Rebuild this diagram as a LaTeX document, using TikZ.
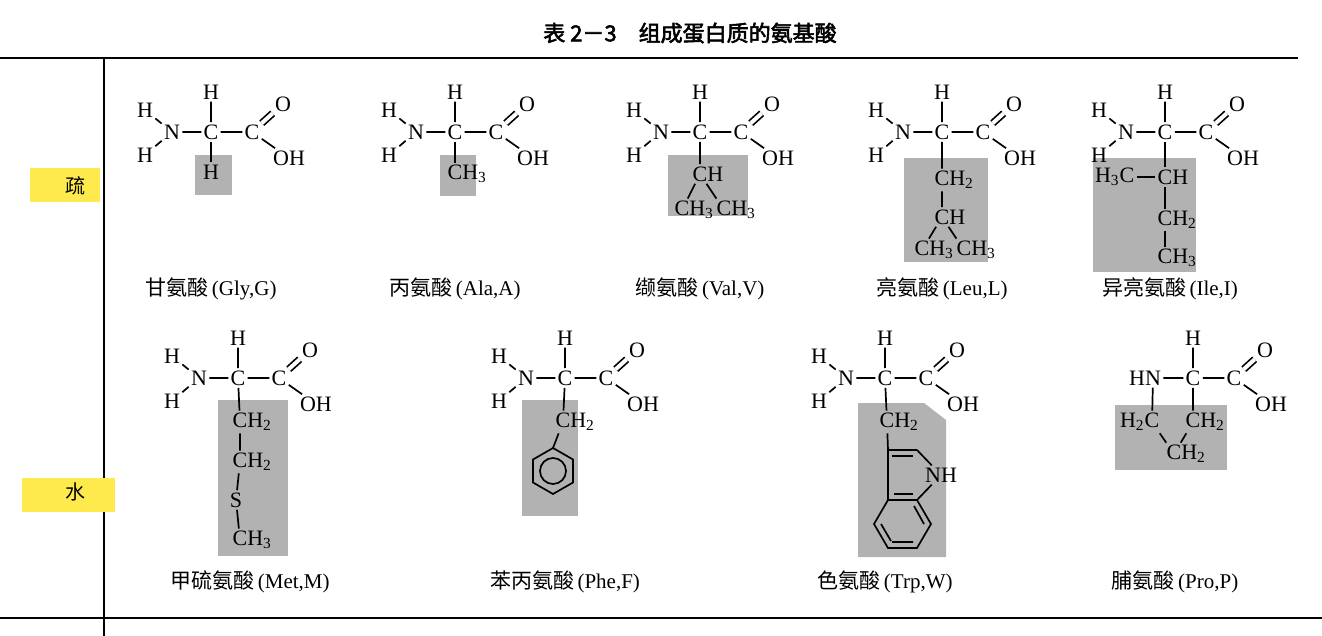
\documentclass[tikz,border=0pt]{standalone}
\usepackage{fontspec}
\setmainfont{Liberation Serif}
\newfontfamily\cjk[AutoFakeBold=2.5]{Noto Sans CJK SC}
\begin{document}
\begin{tikzpicture}[x=0.5pt,y=-0.5pt,
  atom/.style={inner sep=1pt,font=\fontsize{11}{11}\selectfont},
  bond/.style={line width=0.85pt},
  shade/.style={fill=black!30,draw=none},
  hl/.style={fill=yellow!85!orange!70,draw=none},
  lab/.style={font=\fontsize{10.5}{11}\selectfont},
  rule/.style={line width=1pt}]
\useasboundingbox (0,0) rectangle (1322,636);
\newcommand{\bbcore}{%
 \node[atom] (Ca) at (0,0) {C};
 \node[atom] (C) at (41,0) {C};
 \node[atom] (Ht) at (0,-40) {H};
 \node[atom] (O) at (72,-28) {O};
 \node[atom] (OH) at (78,26) {OH};
 \draw[bond] (Ca)--(C) (Ca)--(Ht) (C)--(OH);
 \draw[bond,double,double distance=2pt] (C)--(O);}
\newcommand{\backbone}{%
 \bbcore
 \node[atom] (N) at (-39,0) {N};
 \node[atom] (H1) at (-66,-22) {H};
 \node[atom] (H2) at (-66,23) {H};
 \draw[bond] (N)--(Ca) (N)--(H1) (N)--(H2);}
\newcommand{\CHt}{C\rlap{H\textsubscript{2}}}
\newcommand{\CHth}{C\rlap{H\textsubscript{3}}}
% title and rules
\node[font=\cjk\bfseries\fontsize{11}{12}\selectfont] (title) at (690,33) {表 2－3\quad 组成蛋白质的氨基酸};
\draw[rule] (0,58) -- (1298,58);
\draw[rule] (0,618) -- (1322,618);
\draw[rule] (104,58) -- (104,636);
\fill[hl] (30,168) rectangle (100,202);
\fill[hl] (22,478) rectangle (115,512);
\node[font=\cjk\fontsize{10}{10}\selectfont] (shu) at (75,186) {疏};
\node[font=\cjk\fontsize{10}{10}\selectfont] (shui) at (75,492) {水};
% shaded side chains
\fill[shade] (195,155) rectangle (232,195);
\fill[shade] (440,155) rectangle (476,196);
\fill[shade] (668,155) rectangle (748,216);
\fill[shade] (904,158) rectangle (988,262);
\fill[shade] (1093,158) rectangle (1196,272);
\fill[shade] (218,400) rectangle (288,556);
\fill[shade] (522,400) rectangle (578,516);
\fill[shade] (858,403) -- (924,403) -- (946,420) -- (946,557) -- (858,557) -- cycle;
\fill[shade] (1115,405) rectangle (1227,470);
% Gly
\begin{scope}[shift={(211,132)},name prefix=gly-]
 \backbone
 \node[atom] (R) at (0,40) {H};
 \draw[bond] (Ca)--(R);
\end{scope}
% Ala
\begin{scope}[shift={(455,132)},name prefix=ala-]
 \backbone
 \node[atom] (R) at (0,42) {\CHth};
 \draw[bond] (Ca)--(R);
\end{scope}
% Val
\begin{scope}[shift={(700,132)},name prefix=val-]
 \backbone
 \node[atom] (R) at (0,42) {C\rlap{H}};
 \node[atom] (M1) at (-18,78) {\CHth};
 \node[atom] (M2) at (24,78) {\CHth};
 \draw[bond] (Ca)--(R) (R)--(M1) (R)--(M2);
\end{scope}
% Leu
\begin{scope}[shift={(942,132)},name prefix=leu-]
 \backbone
 \node[atom] (R1) at (0,48) {\CHt};
 \node[atom] (R2) at (0,85) {C\rlap{H}};
 \node[atom] (M1) at (-20,118) {\CHth};
 \node[atom] (M2) at (22,118) {\CHth};
 \draw[bond] (Ca)--(R1) (R1)--(R2) (R2)--(M1) (R2)--(M2);
\end{scope}
% Ile
\begin{scope}[shift={(1165,132)},name prefix=ile-]
 \backbone
 \node[atom] (R1) at (0,45) {C\rlap{H}};
 \node[atom] (M) at (-38,45) {\llap{H\textsubscript{3}}C};
 \node[atom] (R2) at (0,88) {\CHt};
 \node[atom] (R3) at (0,126) {\CHth};
 \draw[bond] (Ca)--(R1) (M)--(R1) (R1)--(R2) (R2)--(R3);
\end{scope}
% Met
\begin{scope}[shift={(238,378)},name prefix=met-]
 \backbone
 \node[atom] (R1) at (2,44) {\CHt};
 \node[atom] (R2) at (2,84) {\CHt};
 \node[atom] (S) at (-2,122) {S};
 \node[atom] (R3) at (2,162) {\CHth};
 \draw[bond] (Ca)--(R1) (R1)--(R2) (R2)--(S) (S)--(R3);
\end{scope}
% Phe
\begin{scope}[shift={(565,378)},name prefix=phe-]
 \backbone
 \node[atom] (R1) at (-2,44) {\CHt};
 \coordinate (B1) at (-12,70);
 \draw[bond] (Ca)--(R1) (R1)--(B1);
 \draw[bond] (B1) -- (-32,81.5) -- (-32,104.5) -- (-12,116) -- (8,104.5) -- (8,81.5) -- cycle;
 \draw[bond] (-12,93) circle (13);
\end{scope}
% Trp
\begin{scope}[shift={(885,378)},name prefix=trp-]
 \backbone
 \node[atom] (R1) at (2,44) {\CHt};
 \coordinate (C3) at (3,72);
 \coordinate (C2) at (32,72);
 \node[atom] (NH) at (56,97) {NH};
 \coordinate (C7a) at (32,122);
 \coordinate (C3a) at (3,122);
 \draw[bond] (Ca)--(R1) (R1)--(C3) (C3)--(C2) (C2)--(NH) (NH)--(C7a) (C7a)--(C3a) (C3a)--(C3);
 \draw[bond] (7,78)--(28,78) (9,116)--(28,116);
 \draw[bond] (C3a) -- (-11,146) -- (3,170) -- (32,170) -- (46,146) -- (C7a);
 \draw[bond] (-4,146)--(6,163) (7,164)--(28,164) (39,146)--(29,128);
\end{scope}
% Pro
\begin{scope}[shift={(1193,378)},name prefix=pro-]
 \bbcore
 \node[atom] (N) at (-40,0) {\llap{H}N};
 \node[atom] (R1) at (-41,44) {\llap{H\textsubscript{2}}C};
 \node[atom] (R2) at (0,44) {\CHt};
 \node[atom] (R3) at (-19,76) {\CHt};
 \draw[bond] (N)--(Ca) (N)--(R1) (Ca)--(R2) (R1)--(R3) (R2)--(R3);
\end{scope}
% labels
\node[lab] (l1) at (211,289) {{\cjk 甘氨酸}\,(Gly,G)};
\node[lab] (l2) at (455,289) {{\cjk 丙氨酸}\,(Ala,A)};
\node[lab] (l3) at (700,289) {{\cjk 缬氨酸}\,(Val,V)};
\node[lab] (l4) at (942,289) {{\cjk 亮氨酸}\,(Leu,L)};
\node[lab] (l5) at (1170,289) {{\cjk 异亮氨酸}\,(Ile,I)};
\node[lab] (l6) at (250,582) {{\cjk 甲硫氨酸}\,(Met,M)};
\node[lab] (l7) at (565,582) {{\cjk 苯丙氨酸}\,(Phe,F)};
\node[lab] (l8) at (885,582) {{\cjk 色氨酸}\,(Trp,W)};
\node[lab] (l9) at (1175,582) {{\cjk 脯氨酸}\,(Pro,P)};
\end{tikzpicture}
\end{document}
